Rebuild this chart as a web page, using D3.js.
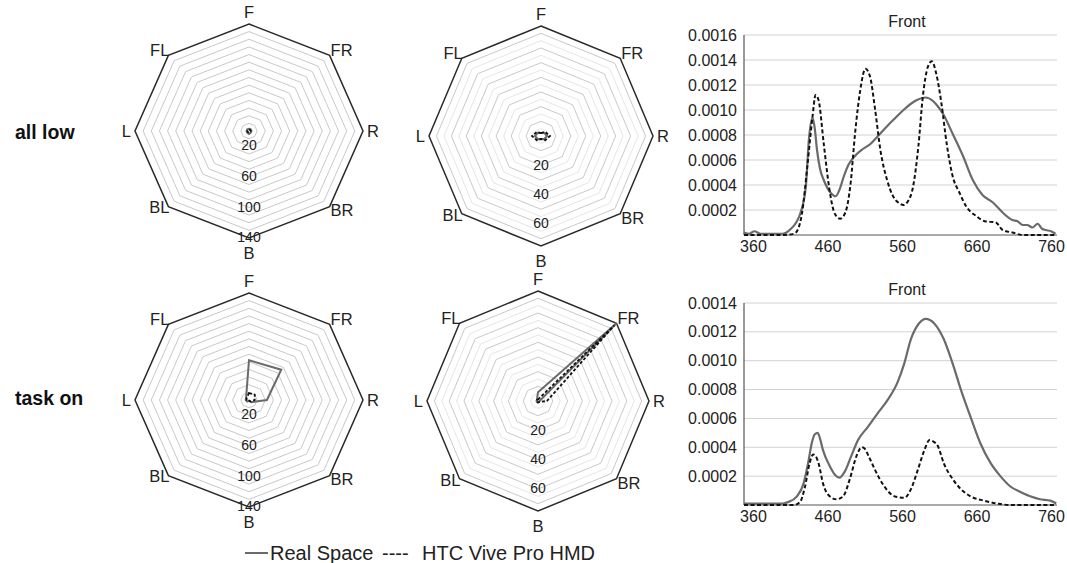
<!DOCTYPE html>
<html><head><meta charset="utf-8">
<script src="https://cdn.jsdelivr.net/npm/d3@7"></script>
<style>
body{margin:0;background:#fff;}
svg{display:block;font-family:"Liberation Sans",Arial,sans-serif;}
</style></head><body>
<svg id="c" width="1067" height="563"></svg>
<script>
// ---------- DATA ----------
const directions = ["F","FR","R","BR","B","BL","L","FL"];
const rowLabels = ["all low","task on"];
const seriesNames = ["Real Space","HTC Vive Pro HMD"];

// radar values (order: F, FR, R, BR, B, BL, L, FL)
const r1TopReal = [3,3,3,3,4,3,3,3];
const r1TopHtc  = [2,2,2,2,2,2,2,2];
const r2TopReal = [2,3,4,3,2,3,4,3];
const r2TopHtc  = [2,4,6,4,2,4,6,4];
const r1BotReal = [52,56,22,4,1,3,4,5];
const r1BotHtc  = [9,10,7,3,1,2,3,4];
const r2BotReal = [6,75,1,1,1,1,1,1];
const r2BotHtc  = [1,73,6,1,1,1,1,1];

const radar1Max = 140, radar1Step = 10, radar1Labels = [20,60,100,140];
const radar2Max = 75,  radar2Step = 5,  radar2Labels = [20,40,60];

// spectra [wavelength nm, value]
const topReal = [[348,0.00002],[355,0.00001],[362,0.00003],[370,0.00001],[385,0.00001],[400,0.00001],[405,0.00002],[411,0.00005],[418,0.0001],[424,0.00018],[431,0.00039],[435,0.00076],[440,0.00094],[443,0.00085],[446,0.00068],[450,0.00053],[455,0.00044],[464,0.00034],[471,0.00031],[476,0.00036],[482,0.00047],[488,0.00056],[495,0.00062],[508,0.00069],[518,0.00073],[526,0.00078],[540,0.00087],[550,0.00093],[562,0.001],[572,0.00105],[580,0.00108],[591,0.0011],[602,0.00107],[608,0.00103],[615,0.00097],[628,0.00081],[642,0.00063],[655,0.00044],[668,0.00032],[682,0.00026],[695,0.00018],[708,0.00012],[715,0.00011],[722,0.00008],[728,0.00008],[735,0.00006],[742,0.00009],[748,0.00005],[753,0.00004],[760,0.00003],[766,0.00001]];
const topHtc = [[348,0],[400,0],[415,0.00001],[420,0.00004],[426,0.00018],[433,0.00055],[440,0.00095],[444,0.00112],[448,0.00108],[455,0.00073],[462,0.00039],[468,0.0002],[472,0.00015],[477,0.00013],[484,0.00018],[491,0.00041],[497,0.00081],[504,0.00116],[511,0.00133],[517,0.00127],[524,0.001],[531,0.00068],[540,0.00044],[548,0.00031],[555,0.00026],[562,0.00024],[568,0.00027],[575,0.00039],[582,0.00071],[588,0.00111],[595,0.00135],[600,0.00139],[606,0.00129],[613,0.00105],[620,0.00073],[628,0.00047],[637,0.00034],[646,0.00023],[660,0.00015],[671,0.00011],[686,0.0001],[695,0.00004],[708,0.00002],[722,0],[766,0]];
const botReal = [[348,0.00001],[400,0.00001],[407,0.00002],[419,0.00006],[428,0.00015],[434,0.00029],[439,0.00043],[443,0.00049],[447,0.0005],[450,0.00046],[454,0.00038],[463,0.00027],[470,0.00021],[476,0.00019],[483,0.00023],[492,0.00034],[501,0.00045],[514,0.00054],[528,0.00064],[541,0.00073],[554,0.00085],[563,0.00098],[572,0.00115],[583,0.00126],[592,0.00129],[603,0.00126],[616,0.00115],[628,0.00098],[639,0.0008],[652,0.00061],[665,0.00043],[679,0.00029],[692,0.0002],[705,0.00013],[719,0.00009],[732,0.00006],[745,0.00004],[759,0.00003],[767,0.00001]];
const botHtc = [[348,0],[415,0],[423,0.00002],[430,0.00013],[436,0.00029],[441,0.00035],[444,0.00034],[448,0.00029],[454,0.00015],[463,0.00006],[472,0.00004],[481,0.00006],[490,0.00018],[499,0.00034],[506,0.0004],[510,0.00039],[516,0.00033],[528,0.0002],[539,0.00011],[550,0.00006],[563,0.00005],[572,0.00011],[581,0.00024],[590,0.00038],[597,0.00045],[602,0.00044],[608,0.00041],[616,0.00029],[628,0.00018],[639,0.00011],[652,0.00006],[670,0.00003],[688,0.00001],[705,0],[766,0]];

const xTicks = [360,460,560,660,760];
const topYTicks = [0.0002,0.0004,0.0006,0.0008,0.0010,0.0012,0.0014,0.0016];
const botYTicks = [0.0002,0.0004,0.0006,0.0008,0.0010,0.0012,0.0014];
const chartTitle = "Front";

// ---------- DRAW ----------
const svg = d3.select("#c");
const REAL_COLOR = "#6a6a6a", HTC_COLOR = "#111";

function radar(cx, cy, rx, ry, max, step, labels, real, htc) {
  const g = svg.append("g");
  const rs = d3.scaleLinear().domain([0, max]).range([0, 1]);
  const ang = d3.scaleLinear().domain([0, directions.length]).range([0, 2*Math.PI]);
  const pt = (v, i) => [cx + rx*rs(v)*Math.sin(ang(i)), cy - ry*rs(v)*Math.cos(ang(i))];
  const poly = vals => vals.map((v,i)=>pt(v,i));
  const closed = d3.line().curve(d3.curveLinearClosed);
  const rings = d3.range(step, max, step);
  g.selectAll(".ring").data(rings).join("path")
    .attr("d", v => closed(poly(directions.map(()=>v))))
    .attr("fill","none")
    .attr("stroke", v => (max===75 && v%10!==0) ? "#e6e6e6" : "#c9c9c9")
    .attr("stroke-width",1);
  g.append("path").attr("d", closed(poly(directions.map(()=>max))))
    .attr("fill","none").attr("stroke","#2a2a2a").attr("stroke-width",1.5);
  // ring labels
  g.selectAll(".rl").data(labels).join("text")
    .attr("x", cx).attr("y", v => cy + ry*rs(v)).attr("dy","0.3em")
    .attr("text-anchor","middle").attr("font-size",14).attr("fill","#222")
    .text(d => d);
  // direction labels
  directions.forEach((d,i) => {
    const [vx, vy] = pt(max, i);
    let x = vx, y = vy, anchor = "middle", dy = "0.35em";
    if (d==="F") { y = vy - 12; }
    else if (d==="B") { y = vy + 15; }
    else if (d==="R") { x = vx + 4; anchor = "start"; }
    else if (d==="L") { x = vx - 4; anchor = "end"; }
    else if (d==="FR") { x = vx + 1; y = vy - 5; anchor = "start"; }
    else if (d==="FL") { x = vx + 1; y = vy - 5; anchor = "end"; }
    else if (d==="BR") { x = vx + 1; y = vy + 4; anchor = "start"; }
    else if (d==="BL") { x = vx + 1; y = vy + 1; anchor = "end"; }
    g.append("text").attr("x",x).attr("y",y).attr("dy",dy)
      .attr("text-anchor",anchor).attr("font-size",16.5).attr("fill","#222").text(d);
  });
  g.append("path").attr("d", closed(poly(real)))
    .attr("fill","none").attr("stroke",REAL_COLOR).attr("stroke-width",2);
  g.append("path").attr("d", closed(poly(htc)))
    .attr("fill","none").attr("stroke",HTC_COLOR).attr("stroke-width",1.8)
    .attr("stroke-dasharray","3,2");
}

radar(249, 131, 114, 107, radar1Max, radar1Step, radar1Labels, r1TopReal, r1TopHtc);
radar(541, 136, 112, 110, radar2Max, radar2Step, radar2Labels, r2TopReal, r2TopHtc);
radar(249, 400, 114, 107, radar1Max, radar1Step, radar1Labels, r1BotReal, r1BotHtc);
radar(538, 401, 111, 110, radar2Max, radar2Step, radar2Labels, r2BotReal, r2BotHtc);

// row labels
svg.append("text").attr("x",15).attr("y",132).attr("dy","0.35em")
  .attr("font-size",19.5).attr("font-weight","bold").attr("fill","#111").text(rowLabels[0]);
svg.append("text").attr("x",15).attr("y",398).attr("dy","0.35em")
  .attr("font-size",19.5).attr("font-weight","bold").attr("fill","#111").text(rowLabels[1]);

function spectrum(top, bottom, yMax, yTicks, real, htc) {
  const left = 744, right = 1057;
  const x = d3.scaleLinear().domain([348, 768]).range([left, right]);
  const y = d3.scaleLinear().domain([0, yMax]).range([bottom, top]);
  const g = svg.append("g");
  g.selectAll(".gl").data(yTicks).join("line")
    .attr("x1",left).attr("x2",right).attr("y1",d=>y(d)).attr("y2",d=>y(d))
    .attr("stroke","#d2d2d2").attr("stroke-width",1);
  const ya = g.append("g").attr("transform",`translate(${left},0)`)
    .call(d3.axisLeft(y).tickValues(yTicks).tickFormat(d3.format(".4f")).tickSize(0).tickPadding(7));
  ya.select(".domain").remove();
  ya.selectAll("text").attr("font-size",16).attr("fill","#222").attr("font-family","Liberation Sans, Arial, sans-serif");
  const xa = g.append("g").attr("transform",`translate(0,${bottom})`)
    .call(d3.axisBottom(x).tickValues(xTicks).tickFormat(d3.format("d")).tickSize(0).tickPadding(6));
  xa.select(".domain").remove();
  xa.selectAll("text").attr("font-size",16).attr("fill","#222").attr("font-family","Liberation Sans, Arial, sans-serif");
  g.append("line").attr("x1",left).attr("x2",left).attr("y1",top).attr("y2",bottom)
    .attr("stroke","#555").attr("stroke-width",1.2);
  g.append("line").attr("x1",left).attr("x2",right).attr("y1",bottom).attr("y2",bottom)
    .attr("stroke","#555").attr("stroke-width",1.2);
  g.append("text").attr("x",907).attr("y",top-14).attr("dy","0.35em")
    .attr("text-anchor","middle").attr("font-size",16).attr("fill","#222").text(chartTitle);
  const line = d3.line().x(d=>x(d[0])).y(d=>y(d[1])).curve(d3.curveMonotoneX);
  g.append("path").attr("d", line(real)).attr("fill","none")
    .attr("stroke",REAL_COLOR).attr("stroke-width",2.2);
  g.append("path").attr("d", line(htc)).attr("fill","none")
    .attr("stroke",HTC_COLOR).attr("stroke-width",2).attr("stroke-dasharray","4,2.5");
}

spectrum(35, 235, 0.0016, topYTicks, topReal, topHtc);
spectrum(303, 505, 0.0014, botYTicks, botReal, botHtc);

// legend
const lg = svg.append("g");
lg.append("line").attr("x1",245).attr("x2",268).attr("y1",553).attr("y2",553)
  .attr("stroke",REAL_COLOR).attr("stroke-width",2);
lg.append("text").attr("x",270).attr("y",553).attr("dy","0.35em")
  .attr("font-size",20).attr("fill","#222").text(seriesNames[0]);
lg.append("text").attr("x",382).attr("y",553).attr("dy","0.35em")
  .attr("font-size",20).attr("fill","#222").text("----");
lg.append("text").attr("x",422).attr("y",553).attr("dy","0.35em")
  .attr("font-size",20).attr("fill","#222").text(seriesNames[1]);
</script></body></html>
